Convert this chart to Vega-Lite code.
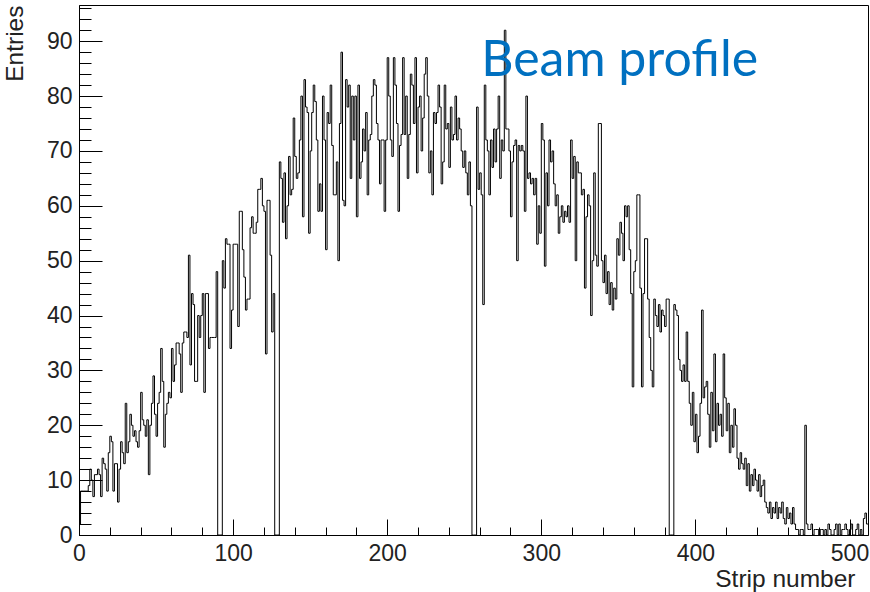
{
"$schema": "https://vega.github.io/schema/vega-lite/v6.json",
"width": 789, "height": 530,
"autosize": "none",
"padding": {"left": 79, "top": 5, "right": 2, "bottom": 57},
"background": "white",
"config": {"view": {"stroke": "#000", "strokeWidth": 1},
 "axis": {"labelFont": "Liberation Sans", "titleFont": "Liberation Sans", "labelFontSize": 23, "titleFontSize": 24.5, "labelColor": "#222", "titleColor": "#222", "titleFontWeight": "normal", "domainColor": "#000", "tickColor": "#000", "grid": false, "labelFlush": false, "labelOverlap": false}},
"layer": [
 {"data": {"values": [
{"strip":0,"entries":2},{"strip":1,"entries":8},{"strip":2,"entries":8},{"strip":3,"entries":8},{"strip":4,"entries":8},{"strip":5,"entries":8},{"strip":6,"entries":9},{"strip":7,"entries":12},{"strip":8,"entries":10},{"strip":9,"entries":7},{"strip":10,"entries":11},{"strip":11,"entries":11},{"strip":12,"entries":12},{"strip":13,"entries":11},{"strip":14,"entries":7},{"strip":15,"entries":14},
{"strip":16,"entries":13},{"strip":17,"entries":12},{"strip":18,"entries":8},{"strip":19,"entries":15},{"strip":20,"entries":18},{"strip":21,"entries":17},{"strip":22,"entries":8},{"strip":23,"entries":13},{"strip":24,"entries":13},{"strip":25,"entries":6},{"strip":26,"entries":12},{"strip":27,"entries":17},{"strip":28,"entries":15},{"strip":29,"entries":13},{"strip":30,"entries":24},{"strip":31,"entries":15},
{"strip":32,"entries":17},{"strip":33,"entries":22},{"strip":34,"entries":20},{"strip":35,"entries":18},{"strip":36,"entries":19},{"strip":37,"entries":17},{"strip":38,"entries":16},{"strip":39,"entries":19},{"strip":40,"entries":26},{"strip":41,"entries":21},{"strip":42,"entries":20},{"strip":43,"entries":18},{"strip":44,"entries":21},{"strip":45,"entries":11},{"strip":46,"entries":20},{"strip":47,"entries":24},
{"strip":48,"entries":29},{"strip":49,"entries":22},{"strip":50,"entries":18},{"strip":51,"entries":24},{"strip":52,"entries":26},{"strip":53,"entries":34},{"strip":54,"entries":28},{"strip":55,"entries":16},{"strip":56,"entries":22},{"strip":57,"entries":24},{"strip":58,"entries":26},{"strip":59,"entries":25},{"strip":60,"entries":34},{"strip":61,"entries":28},{"strip":62,"entries":31},{"strip":63,"entries":35},
{"strip":64,"entries":35},{"strip":65,"entries":33},{"strip":66,"entries":26},{"strip":67,"entries":35},{"strip":68,"entries":37},{"strip":69,"entries":37},{"strip":70,"entries":36},{"strip":71,"entries":51},{"strip":72,"entries":31},{"strip":73,"entries":44},{"strip":74,"entries":42},{"strip":75,"entries":28},{"strip":76,"entries":28},{"strip":77,"entries":40},{"strip":78,"entries":36},{"strip":79,"entries":40},
{"strip":80,"entries":44},{"strip":81,"entries":26},{"strip":82,"entries":44},{"strip":83,"entries":44},{"strip":84,"entries":34},{"strip":85,"entries":36},{"strip":86,"entries":36},{"strip":87,"entries":36},{"strip":88,"entries":36},{"strip":89,"entries":48},{"strip":90,"entries":0},{"strip":91,"entries":0},{"strip":92,"entries":0},{"strip":93,"entries":50},{"strip":94,"entries":45},{"strip":95,"entries":54},
{"strip":96,"entries":53},{"strip":97,"entries":53},{"strip":98,"entries":34},{"strip":99,"entries":41},{"strip":100,"entries":53},{"strip":101,"entries":53},{"strip":102,"entries":53},{"strip":103,"entries":38},{"strip":104,"entries":59},{"strip":105,"entries":59},{"strip":106,"entries":52},{"strip":107,"entries":47},{"strip":108,"entries":41},{"strip":109,"entries":43},{"strip":110,"entries":43},{"strip":111,"entries":56},
{"strip":112,"entries":58},{"strip":113,"entries":55},{"strip":114,"entries":55},{"strip":115,"entries":57},{"strip":116,"entries":63},{"strip":117,"entries":63},{"strip":118,"entries":65},{"strip":119,"entries":60},{"strip":120,"entries":59},{"strip":121,"entries":33},{"strip":122,"entries":61},{"strip":123,"entries":61},{"strip":124,"entries":51},{"strip":125,"entries":37},{"strip":126,"entries":44},{"strip":127,"entries":0},
{"strip":128,"entries":0},{"strip":129,"entries":0},{"strip":130,"entries":68},{"strip":131,"entries":65},{"strip":132,"entries":57},{"strip":133,"entries":66},
{"strip":134,"entries":54},{"strip":135,"entries":60},{"strip":136,"entries":69},{"strip":137,"entries":62},{"strip":138,"entries":63},{"strip":139,"entries":76},{"strip":140,"entries":69},{"strip":141,"entries":65},{"strip":142,"entries":66},{"strip":143,"entries":72},{"strip":144,"entries":80},{"strip":145,"entries":58},{"strip":146,"entries":83},{"strip":147,"entries":78},{"strip":148,"entries":77},{"strip":149,"entries":55},
{"strip":150,"entries":70},{"strip":151,"entries":77},{"strip":152,"entries":82},{"strip":153,"entries":79},{"strip":154,"entries":72},{"strip":155,"entries":59},{"strip":156,"entries":64},{"strip":157,"entries":59},{"strip":158,"entries":80},{"strip":159,"entries":72},{"strip":160,"entries":52},{"strip":161,"entries":77},{"strip":162,"entries":75},{"strip":163,"entries":82},{"strip":164,"entries":71},{"strip":165,"entries":62},
{"strip":166,"entries":62},{"strip":167,"entries":68},{"strip":168,"entries":50},{"strip":169,"entries":75},{"strip":170,"entries":88},{"strip":171,"entries":61},{"strip":172,"entries":60},{"strip":173,"entries":83},{"strip":174,"entries":78},{"strip":175,"entries":82},{"strip":176,"entries":65},{"strip":177,"entries":80},{"strip":178,"entries":72},{"strip":179,"entries":80},{"strip":180,"entries":58},{"strip":181,"entries":82},
{"strip":182,"entries":65},{"strip":183,"entries":68},{"strip":184,"entries":74},{"strip":185,"entries":70},{"strip":186,"entries":77},{"strip":187,"entries":62},{"strip":188,"entries":72},{"strip":189,"entries":73},{"strip":190,"entries":80},{"strip":191,"entries":83},{"strip":192,"entries":82},{"strip":193,"entries":75},{"strip":194,"entries":72},{"strip":195,"entries":64},{"strip":196,"entries":72},{"strip":197,"entries":72},
{"strip":198,"entries":59},{"strip":199,"entries":72},{"strip":200,"entries":87},{"strip":201,"entries":80},
{"strip":202,"entries":72},{"strip":203,"entries":69},{"strip":204,"entries":87},{"strip":205,"entries":82},{"strip":206,"entries":75},{"strip":207,"entries":59},{"strip":208,"entries":71},{"strip":209,"entries":73},{"strip":210,"entries":87},{"strip":211,"entries":73},{"strip":212,"entries":80},{"strip":213,"entries":65},{"strip":214,"entries":73},{"strip":215,"entries":84},{"strip":216,"entries":82},{"strip":217,"entries":75},
{"strip":218,"entries":87},{"strip":219,"entries":66},{"strip":220,"entries":78},{"strip":221,"entries":80},{"strip":222,"entries":70},{"strip":223,"entries":76},{"strip":224,"entries":84},{"strip":225,"entries":87},{"strip":226,"entries":80},{"strip":227,"entries":66},{"strip":228,"entries":70},{"strip":229,"entries":62},{"strip":230,"entries":77},{"strip":231,"entries":75},{"strip":232,"entries":77},{"strip":233,"entries":82},
{"strip":234,"entries":78},{"strip":235,"entries":64},{"strip":236,"entries":68},{"strip":237,"entries":82},{"strip":238,"entries":74},{"strip":239,"entries":75},{"strip":240,"entries":67},{"strip":241,"entries":78},{"strip":242,"entries":72},{"strip":243,"entries":73},{"strip":244,"entries":80},{"strip":245,"entries":72},{"strip":246,"entries":76},{"strip":247,"entries":74},{"strip":248,"entries":70},{"strip":249,"entries":67},
{"strip":250,"entries":70},{"strip":251,"entries":66},{"strip":252,"entries":62},{"strip":253,"entries":68},{"strip":254,"entries":60},{"strip":255,"entries":0},{"strip":256,"entries":0},{"strip":257,"entries":0},
{"strip":258,"entries":78},{"strip":259,"entries":63},{"strip":260,"entries":66},{"strip":261,"entries":62},{"strip":262,"entries":42},{"strip":263,"entries":82},{"strip":264,"entries":72},{"strip":265,"entries":70},{"strip":266,"entries":62},{"strip":267,"entries":72},{"strip":268,"entries":67},{"strip":269,"entries":74},{"strip":270,"entries":68},{"strip":271,"entries":74},
{"strip":272,"entries":80},{"strip":273,"entries":65},{"strip":274,"entries":72},{"strip":275,"entries":70},{"strip":276,"entries":92},{"strip":277,"entries":74},{"strip":278,"entries":74},{"strip":279,"entries":70},{"strip":280,"entries":58},{"strip":281,"entries":68},{"strip":282,"entries":71},{"strip":283,"entries":72},{"strip":284,"entries":50},{"strip":285,"entries":71},
{"strip":286,"entries":70},{"strip":287,"entries":71},{"strip":288,"entries":70},{"strip":289,"entries":59},{"strip":290,"entries":80},{"strip":291,"entries":65},{"strip":292,"entries":66},{"strip":293,"entries":64},{"strip":294,"entries":65},{"strip":295,"entries":62},{"strip":296,"entries":65},{"strip":297,"entries":53},{"strip":298,"entries":60},{"strip":299,"entries":55},{"strip":300,"entries":75},{"strip":301,"entries":72},
{"strip":302,"entries":49},{"strip":303,"entries":66},{"strip":304,"entries":60},{"strip":305,"entries":72},{"strip":306,"entries":68},{"strip":307,"entries":70},{"strip":308,"entries":64},{"strip":309,"entries":60},{"strip":310,"entries":62},{"strip":311,"entries":55},{"strip":312,"entries":58},{"strip":313,"entries":60},{"strip":314,"entries":57},{"strip":315,"entries":59},{"strip":316,"entries":58},{"strip":317,"entries":60},
{"strip":318,"entries":57},{"strip":319,"entries":72},{"strip":320,"entries":65},{"strip":321,"entries":69},{"strip":322,"entries":50},{"strip":323,"entries":68},{"strip":324,"entries":66},{"strip":325,"entries":66},{"strip":326,"entries":62},{"strip":327,"entries":63},{"strip":328,"entries":45},{"strip":329,"entries":58},{"strip":330,"entries":62},{"strip":331,"entries":60},{"strip":332,"entries":40},{"strip":333,"entries":50},
{"strip":334,"entries":66},{"strip":335,"entries":51},
{"strip":336,"entries":49},{"strip":337,"entries":75},{"strip":338,"entries":75},{"strip":339,"entries":50},{"strip":340,"entries":46},{"strip":341,"entries":51},{"strip":342,"entries":44},{"strip":343,"entries":48},{"strip":344,"entries":42},{"strip":345,"entries":46},{"strip":346,"entries":41},{"strip":347,"entries":45},{"strip":348,"entries":43},{"strip":349,"entries":54},{"strip":350,"entries":51},{"strip":351,"entries":57},
{"strip":352,"entries":55},{"strip":353,"entries":50},{"strip":354,"entries":60},{"strip":355,"entries":58},{"strip":356,"entries":60},{"strip":357,"entries":52},{"strip":358,"entries":44},{"strip":359,"entries":27},{"strip":360,"entries":48},{"strip":361,"entries":50},{"strip":362,"entries":62},{"strip":363,"entries":62},{"strip":364,"entries":45},{"strip":365,"entries":27},{"strip":366,"entries":44},{"strip":367,"entries":54},
{"strip":368,"entries":54},{"strip":369,"entries":43},{"strip":370,"entries":36},{"strip":371,"entries":30},{"strip":372,"entries":27},{"strip":373,"entries":43},{"strip":374,"entries":40},{"strip":375,"entries":38},{"strip":376,"entries":42},{"strip":377,"entries":37},{"strip":378,"entries":41},{"strip":379,"entries":40},{"strip":380,"entries":38},{"strip":381,"entries":43},{"strip":382,"entries":43},{"strip":383,"entries":0},
{"strip":384,"entries":0},{"strip":385,"entries":0},{"strip":386,"entries":42},{"strip":387,"entries":41},{"strip":388,"entries":40},{"strip":389,"entries":32},{"strip":390,"entries":30},{"strip":391,"entries":28},{"strip":392,"entries":31},{"strip":393,"entries":28},{"strip":394,"entries":37},{"strip":395,"entries":28},{"strip":396,"entries":24},{"strip":397,"entries":20},{"strip":398,"entries":26},{"strip":399,"entries":17},
{"strip":400,"entries":22},{"strip":401,"entries":15},{"strip":402,"entries":18},{"strip":403,"entries":24},{"strip":404,"entries":41},{"strip":405,"entries":25},{"strip":406,"entries":27},{"strip":407,"entries":28},{"strip":408,"entries":22},{"strip":409,"entries":16},{"strip":410,"entries":26},{"strip":411,"entries":19},{"strip":412,"entries":33},{"strip":413,"entries":17},{"strip":414,"entries":24},{"strip":415,"entries":20},
{"strip":416,"entries":22},{"strip":417,"entries":18},{"strip":418,"entries":33},{"strip":419,"entries":25},{"strip":420,"entries":19},{"strip":421,"entries":24},{"strip":422,"entries":15},{"strip":423,"entries":20},{"strip":424,"entries":16},{"strip":425,"entries":23},{"strip":426,"entries":20},{"strip":427,"entries":14},{"strip":428,"entries":12},{"strip":429,"entries":15},{"strip":430,"entries":13},{"strip":431,"entries":12},
{"strip":432,"entries":14},{"strip":433,"entries":9},{"strip":434,"entries":13},{"strip":435,"entries":8},{"strip":436,"entries":11},{"strip":437,"entries":9},{"strip":438,"entries":12},{"strip":439,"entries":10},{"strip":440,"entries":8},{"strip":441,"entries":11},{"strip":442,"entries":7},{"strip":443,"entries":9},{"strip":444,"entries":10},{"strip":445,"entries":6},{"strip":446,"entries":5},{"strip":447,"entries":4},
{"strip":448,"entries":6},{"strip":449,"entries":3},{"strip":450,"entries":5},{"strip":451,"entries":4},{"strip":452,"entries":6},{"strip":453,"entries":3},{"strip":454,"entries":5},{"strip":455,"entries":4},{"strip":456,"entries":6},{"strip":457,"entries":3},{"strip":458,"entries":2},{"strip":459,"entries":5},{"strip":460,"entries":3},{"strip":461,"entries":4},{"strip":462,"entries":2},{"strip":463,"entries":5},
{"strip":464,"entries":2},{"strip":465,"entries":1},{"strip":466,"entries":1},{"strip":467,"entries":0},{"strip":468,"entries":1},{"strip":469,"entries":1},{"strip":470,"entries":0},{"strip":471,"entries":20},{"strip":472,"entries":2},{"strip":473,"entries":1},{"strip":474,"entries":1},{"strip":475,"entries":2},{"strip":476,"entries":0},{"strip":477,"entries":1},{"strip":478,"entries":1},{"strip":479,"entries":1},
{"strip":480,"entries":0},{"strip":481,"entries":1},{"strip":482,"entries":1},{"strip":483,"entries":0},{"strip":484,"entries":1},{"strip":485,"entries":0},{"strip":486,"entries":2},{"strip":487,"entries":1},{"strip":488,"entries":0},{"strip":489,"entries":0},{"strip":490,"entries":1},{"strip":491,"entries":2},{"strip":492,"entries":0},{"strip":493,"entries":2},{"strip":494,"entries":0},{"strip":495,"entries":1},
{"strip":496,"entries":1},{"strip":497,"entries":2},{"strip":498,"entries":1},{"strip":499,"entries":0},{"strip":500,"entries":1},{"strip":501,"entries":2},{"strip":502,"entries":0},{"strip":503,"entries":0},{"strip":504,"entries":1},{"strip":505,"entries":2},{"strip":506,"entries":0},{"strip":507,"entries":1},{"strip":508,"entries":0},{"strip":509,"entries":3},{"strip":510,"entries":4},{"strip":511,"entries":2},
{"strip":512,"entries":2}
 ]},
 "mark": {"type": "line", "interpolate": "step-after", "color": "#000", "strokeWidth": 1},
 "encoding": {
  "x": {"field": "strip", "type": "quantitative", "scale": {"domain": [0, 512], "nice": false},
   "axis": {"orient": "bottom", "values": [0,100,200,300,400,500], "tickSize": -16, "labelPadding": 23, "format": "d",
    "title": "Strip number", "titleAnchor": "end", "titleAlign": "right", "titleX": 776, "titleY": 51, "titleBaseline": "alphabetic"}},
  "y": {"field": "entries", "type": "quantitative", "scale": {"domain": [0, 96.6], "nice": false},
   "axis": {"orient": "left", "values": [0,10,20,30,40,50,60,70,80,90], "tickSize": -23, "labelPadding": 30, "format": "d",
    "title": "Entries", "titleAngle": -90, "titleX": -64, "titleY": 0, "titleAlign": "right", "titleBaseline": "middle"}}
 }},
 {"data": {"values": [{"strip": 261, "entries": 83.6, "label": "Beam profile"}]},
 "mark": {"type": "text", "align": "left", "baseline": "alphabetic", "font": "Lato", "fontSize": 50, "color": "#0070C0"},
 "encoding": {
  "x": {"field": "strip", "type": "quantitative",
   "axis": {"orient": "bottom", "values": [0,20,40,60,80,100,120,140,160,180,200,220,240,260,280,300,320,340,360,380,400,420,440,460,480,500], "tickSize": -8, "labels": false, "domain": false, "title": null}},
  "y": {"field": "entries", "type": "quantitative",
   "axis": {"orient": "left", "values": [2,4,6,8,10,12,14,16,18,20,22,24,26,28,30,32,34,36,38,40,42,44,46,48,50,52,54,56,58,60,62,64,66,68,70,72,74,76,78,80,82,84,86,88,90,92,94,96], "tickSize": -12, "labels": false, "domain": false, "title": null}},
  "text": {"field": "label"}
 }}
],
"resolve": {"axis": {"x": "independent", "y": "independent"}}
}
